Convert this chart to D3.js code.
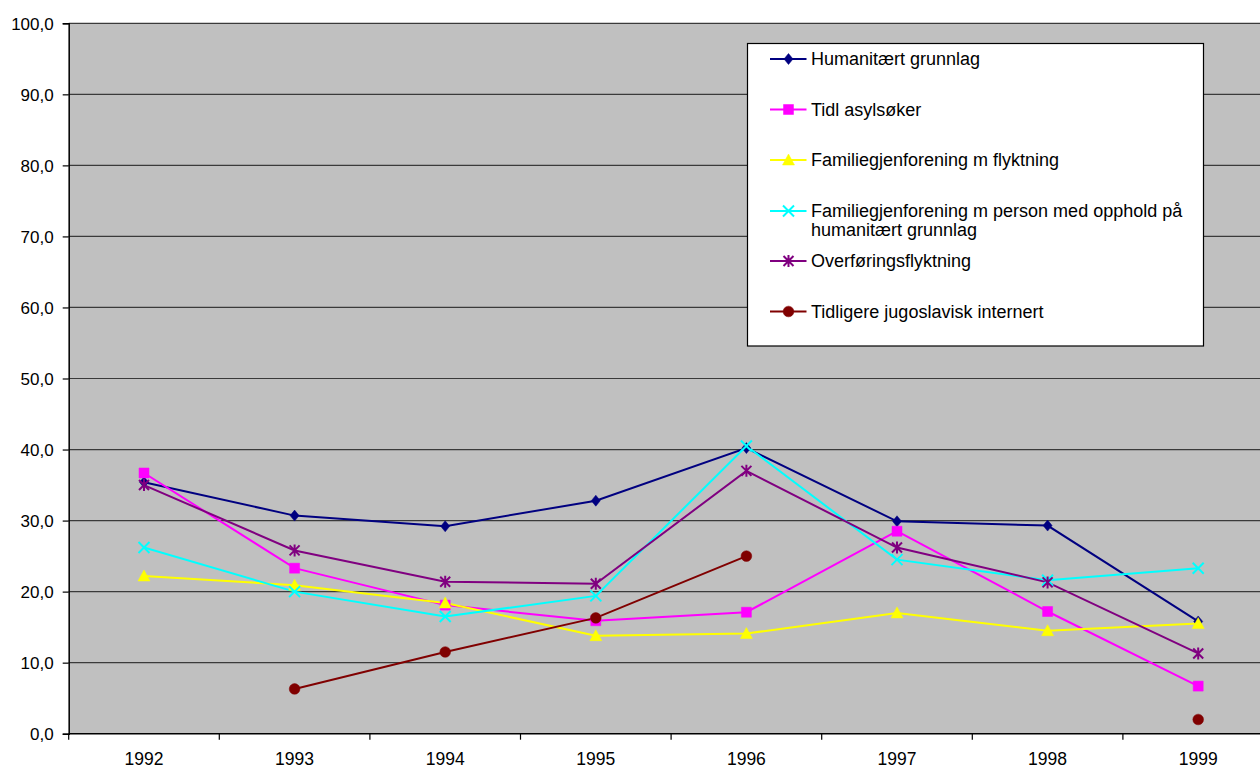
<!DOCTYPE html>
<html lang="no">
  <head>
    <meta charset="utf-8">
    <script src="https://d3js.org/d3.v7.min.js"></script>
    <title>Chart</title>
    <style>
      body { margin: 0; background: #fff; }
      svg text { font-family: "Liberation Sans", Arial, sans-serif; fill: #000; }
    </style>
  </head>
  <body>
    <div id="chart"></div>
    <script type="text/javascript">
      // data
      var years = ["1992", "1993", "1994", "1995", "1996", "1997", "1998", "1999"];
      var yTicks = [0, 10, 20, 30, 40, 50, 60, 70, 80, 90, 100];

      var humanitaert   = [35.4, 30.7, 29.2, 32.8, 40.2, 29.9, 29.3, 15.8];
      var tidlAsyl      = [36.7, 23.3, 18.1, 15.9, 17.1, 28.5, 17.2, 6.7];
      var famFlyktning  = [22.2, 20.9, 18.4, 13.8, 14.1, 17.0, 14.5, 15.5];
      var famHumanitaer = [26.2, 20.0, 16.5, 19.4, 40.5, 24.5, 21.6, 23.3];
      var overforing    = [35.0, 25.8, 21.4, 21.1, 37.0, 26.2, 21.3, 11.3];
      var jugoslavisk   = [null, 6.3, 11.5, 16.3, 25.0, null, null, 2.0];

      var series = [
        { name: ["Humanitært grunnlag"], values: humanitaert, color: "#000080", marker: "diamond" },
        { name: ["Tidl asylsøker"], values: tidlAsyl, color: "#FF00FF", marker: "square" },
        { name: ["Familiegjenforening m flyktning"], values: famFlyktning, color: "#FFFF00", marker: "triangle" },
        { name: ["Familiegjenforening m person med opphold på", "humanitært grunnlag"], values: famHumanitaer, color: "#00FFFF", marker: "x" },
        { name: ["Overføringsflyktning"], values: overforing, color: "#800080", marker: "star" },
        { name: ["Tidligere jugoslavisk internert"], values: jugoslavisk, color: "#800000", marker: "circle" }
      ];

      var width = 1260, height = 769;
      var margin = { left: 68.7, top: 23.3 };
      var plotW = 150.6 * years.length, plotH = 710.4;

      var svg = d3.select("#chart").append("svg")
          .attr("width", width).attr("height", height);

      var g = svg.append("g").attr("transform", "translate(" + margin.left + "," + margin.top + ")");

      var x = d3.scaleBand().domain(years).range([0, plotW]).padding(0);
      var y = d3.scaleLinear().domain([0, 100]).range([plotH, 0]);

      g.append("rect")
          .attr("width", plotW).attr("height", plotH)
          .attr("fill", "#C0C0C0");

      // gridlines
      g.selectAll(".grid").data(yTicks.slice(1)).enter().append("line")
          .attr("x1", 0).attr("x2", plotW)
          .attr("y1", function (d) { return y(d); })
          .attr("y2", function (d) { return y(d); })
          .attr("stroke", "#3a3a3a").attr("stroke-width", 1.2);

      // axes
      var yAxis = d3.axisLeft(y).tickValues(yTicks).tickSize(6).tickPadding(9)
          .tickFormat(function (d) { return d3.format(".1f")(d).replace(".", ","); });
      var ya = g.append("g").call(yAxis);
      ya.select(".domain").attr("stroke", "#000").attr("stroke-width", 1.5);
      ya.selectAll(".tick line").attr("stroke", "#000").attr("stroke-width", 1.2);
      ya.selectAll("text").style("font-size", "17px").attr("dy", "0.36em");

      var xBounds = d3.range(years.length + 1).map(function (i) { return i * x.bandwidth(); });
      var xa = g.append("g").attr("transform", "translate(0," + plotH + ")");
      xa.append("line").attr("x1", 0).attr("x2", plotW)
          .attr("stroke", "#000").attr("stroke-width", 1.5);
      xa.selectAll(".xt").data(xBounds).enter().append("line")
          .attr("x1", function (d) { return d; }).attr("x2", function (d) { return d; })
          .attr("y1", 0).attr("y2", 6)
          .attr("stroke", "#000").attr("stroke-width", 1.2);
      xa.selectAll(".xl").data(years).enter().append("text")
          .attr("x", function (d) { return x(d) + x.bandwidth() / 2; })
          .attr("y", 31.3)
          .attr("text-anchor", "middle")
          .style("font-size", "17.5px")
          .text(function (d) { return d; });

      function markerPath(type) {
        switch (type) {
          case "diamond": return "M0,-5.5L4.5,0L0,5.5L-4.5,0Z";
          case "square": return "M-5,-5H5V5H-5Z";
          case "triangle": return "M0,-6L6,5H-6Z";
          case "x": return "M-5.5,-5.5L5.5,5.5M-5.5,5.5L5.5,-5.5";
          case "star": return "M-5,-5L5,5M-5,5L5,-5M0,-6V6";
          default: return d3.symbol().type(d3.symbolCircle).size(90)();
        }
      }

      function drawMarker(sel, s) {
        var open = s.marker === "x" || s.marker === "star";
        sel.append("path")
            .attr("d", markerPath(s.marker))
            .attr("fill", open ? "none" : s.color)
            .attr("stroke", s.color)
            .attr("stroke-width", open ? 2 : 0.5);
      }

      var line = d3.line()
          .defined(function (d) { return d != null; })
          .x(function (d, i) { return x(years[i]) + x.bandwidth() / 2; })
          .y(function (d) { return y(d); });

      series.forEach(function (s) {
        g.append("path")
            .datum(s.values)
            .attr("d", line)
            .attr("fill", "none")
            .attr("stroke", s.color)
            .attr("stroke-width", 2);
      });

      series.forEach(function (s) {
        s.values.forEach(function (v, i) {
          if (v == null) return;
          var m = g.append("g").attr("transform",
            "translate(" + (x(years[i]) + x.bandwidth() / 2) + "," + y(v) + ")");
          drawMarker(m, s);
        });
      });

      // legend
      var lg = svg.append("g").attr("transform", "translate(747.5,43.5)");
      lg.append("rect").attr("width", 456).attr("height", 302.5)
          .attr("fill", "#fff").attr("stroke", "#000").attr("stroke-width", 1.2);

      var rowY = [15.5, 66, 116.5, 167.5, 217.5, 268];
      series.forEach(function (s, i) {
        var r = lg.append("g").attr("transform", "translate(0," + rowY[i] + ")");
        r.append("line").attr("x1", 22.5).attr("x2", 59)
            .attr("stroke", s.color).attr("stroke-width", 2);
        var m = r.append("g").attr("transform", "translate(41,0)");
        drawMarker(m, s);
        s.name.forEach(function (t, j) {
          r.append("text")
              .attr("x", 63.5).attr("y", j * 19)
              .attr("dy", "0.36em")
              .style("font-size", "18px")
              .text(t);
        });
      });
    </script>
  </body>
</html>
